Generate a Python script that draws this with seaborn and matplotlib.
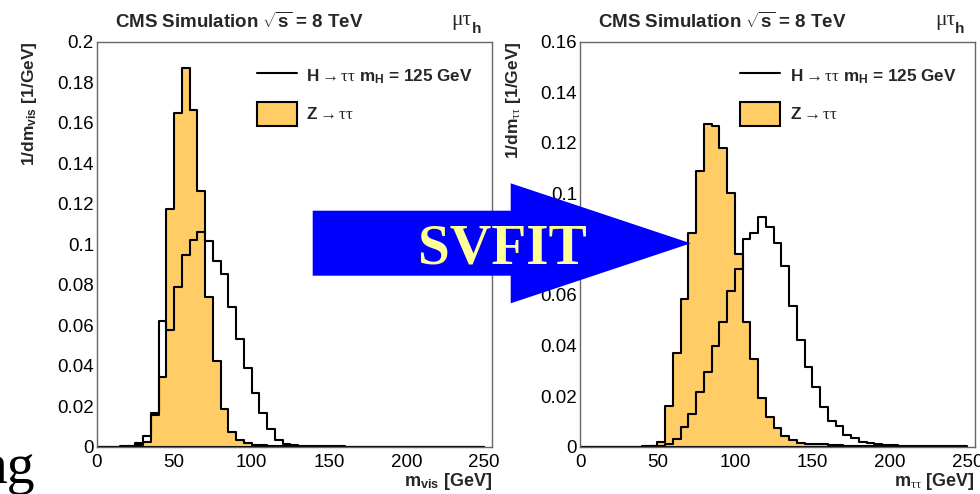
import numpy as np
import matplotlib
matplotlib.use("Agg")
import matplotlib.pyplot as plt
import seaborn as sns
from matplotlib.lines import Line2D
from matplotlib.patches import Patch, Polygon
from matplotlib.ticker import MultipleLocator, FuncFormatter

# ---------------- data (5 GeV bins, 0-250 GeV) ----------------
bin_edges = list(range(0, 255, 5))
bin_centers = [e + 2.5 for e in bin_edges[:-1]]

vis_htt = [0, 0, 0, 0.0001, 0.0004, 0.0020, 0.0054, 0.0168, 0.0622, 0.0576,
           0.0787, 0.0947, 0.1022, 0.1062, 0.1016, 0.0919, 0.0851, 0.0688, 0.0532, 0.0387,
           0.0263, 0.0165, 0.0086, 0.0033, 0.0013, 0.0007, 0.0004, 0.0003, 0.0002, 0.0002,
           0.0001, 0.0001, 0, 0, 0, 0, 0, 0, 0, 0,
           0, 0, 0, 0, 0, 0, 0, 0, 0, 0]
vis_ztt = [0, 0, 0, 0, 0.0002, 0.0008, 0.0025, 0.0157, 0.0346, 0.1174,
           0.1646, 0.1868, 0.1663, 0.1264, 0.0737, 0.0425, 0.0184, 0.0071, 0.0033, 0.0016,
           0.0009, 0.0006, 0.0004, 0.0003, 0.0002, 0.0001, 0, 0, 0, 0,
           0, 0, 0, 0, 0, 0, 0, 0, 0, 0,
           0, 0, 0, 0, 0, 0, 0, 0, 0, 0]
svfit_htt = [0, 0, 0, 0, 0, 0, 0, 0, 0, 0.0001,
             0.0004, 0.0010, 0.0030, 0.0079, 0.0129, 0.0215, 0.0296, 0.0398, 0.0494, 0.0617,
             0.0702, 0.0819, 0.0843, 0.0906, 0.0867, 0.0806, 0.0715, 0.0555, 0.0423, 0.0314,
             0.0236, 0.0156, 0.0102, 0.0083, 0.0047, 0.0033, 0.0017, 0.0013, 0.0009, 0.0007,
             0.0005, 0.0004, 0.0003, 0.0002, 0.0002, 0.0001, 0.0001, 0.0001, 0.0001, 0.0001]
svfit_ztt = [0, 0, 0, 0, 0, 0, 0, 0, 0.0001, 0.0004,
             0.0020, 0.0162, 0.0369, 0.0584, 0.0843, 0.1089, 0.1274, 0.1267, 0.1179, 0.1004,
             0.0761, 0.0494, 0.0347, 0.0191, 0.0116, 0.0075, 0.0043, 0.0026, 0.0013, 0.0012,
             0.0011, 0.0012, 0.0007, 0.0005, 0.0003, 0.0002, 0.0002, 0.0001, 0.0001, 0.0001,
             0, 0, 0, 0, 0, 0, 0, 0, 0, 0]

x_ticks = [0, 50, 100, 150, 200, 250]
title_text = r"CMS Simulation $\sqrt{\mathrm{s}}$ = 8 TeV"
label_htt = r"H$\rightarrow\tau\tau$ m$_{\mathbf{H}}$ = 125 GeV"
label_ztt = r"Z$\rightarrow\tau\tau$"

# ---------------- style ----------------
sns.set_style("white")
plt.rcParams["font.family"] = ["Liberation Sans", "DejaVu Sans"]
plt.rcParams["mathtext.fontset"] = "custom"
plt.rcParams["mathtext.rm"] = "Liberation Sans:bold"
plt.rcParams["mathtext.bf"] = "Liberation Sans:bold"
plt.rcParams["mathtext.it"] = "Liberation Serif"
plt.rcParams["mathtext.sf"] = "Liberation Sans"

Z_COLOR = "#FFCC66"
W, H = 980, 494
fig = plt.figure(figsize=(W / 100, H / 100), dpi=100)
fig.patch.set_facecolor("white")

def px_axes(left, top, right, bottom):
    return [left / W, 1 - bottom / H, (right - left) / W, (bottom - top) / H]

panels = [
    (px_axes(96.7, 41.7, 491.7, 446.7), vis_htt, vis_ztt, 0.2,
     r"$\mathbf{m}_{\mathbf{vis}}$ [GeV]", r"1/dm$_{\mathbf{vis}}$ [1/GeV]"),
    (px_axes(580, 41.7, 975, 446.7), svfit_htt, svfit_ztt, 0.16,
     r"$\mathbf{m}_{\tau\tau}$ [GeV]", r"1/dm$_{\tau\tau}$ [1/GeV]"),
]

for rect, hvals, zvals, ymax, xlab, ylab in panels:
    ax = fig.add_axes(rect)
    sns.histplot(x=bin_centers, weights=zvals, bins=bin_edges, element="step",
                 fill=True, color=Z_COLOR, edgecolor="black", linewidth=1.5,
                 alpha=1, ax=ax)
    sns.histplot(x=bin_centers, weights=hvals, bins=bin_edges, element="step",
                 fill=False, color="black", linewidth=1.5, ax=ax)
    ax.set_xlim(0, 255)
    ax.set_ylim(0, ymax)
    ax.set_xlabel("")
    ax.set_ylabel("")
    ax.set_xticks(x_ticks)
    ax.xaxis.set_minor_locator(MultipleLocator(10))
    ax.yaxis.set_major_locator(MultipleLocator(0.02))
    ax.yaxis.set_minor_locator(MultipleLocator(0.005))
    ax.yaxis.set_major_formatter(FuncFormatter(lambda v, p: "%g" % round(v, 4)))
    ax.tick_params(axis="both", which="both", direction="in", colors="#333333",
                   labelcolor="black", labelsize=13.5, width=1)
    ax.tick_params(axis="x", which="major", length=7.2, pad=5)
    ax.tick_params(axis="x", which="minor", length=3.6)
    ax.tick_params(axis="y", which="major", length=8.6, pad=2)
    ax.tick_params(axis="y", which="minor", length=4.3)
    for s in ax.spines.values():
        s.set_color("#666666")
        s.set_linewidth(1)
    ax.text(1.0, -0.097, xlab, transform=ax.transAxes, ha="right", va="baseline",
            fontsize=13, fontweight="bold")
    ax.text(-0.169, 1.0, ylab, transform=ax.transAxes, ha="center", va="top",
            rotation=90, fontsize=12.5, fontweight="bold")
    ax.text(0.046, 1.033, title_text, transform=ax.transAxes, ha="left",
            va="baseline", fontsize=13.5, fontweight="bold")
    # channel label: mu tau with bold subscript h
    ax.text(0.8985, 1.0412, "\u03bc\u03c4", transform=ax.transAxes, ha="left",
            va="baseline", fontsize=15.5, family=["Liberation Serif"])
    ax.text(0.9489, 1.0215, "h", transform=ax.transAxes, ha="left",
            va="baseline", fontsize=11, fontweight="bold")
    handles = [Line2D([], [], color="black", lw=1.5),
               Patch(facecolor=Z_COLOR, edgecolor="black", lw=1.5)]
    ax.legend(handles, [label_htt, label_ztt], loc="upper left",
              bbox_to_anchor=(0.405, 0.945), frameon=False,
              prop={"weight": "bold", "size": 12.3}, handlelength=2.35,
              handleheight=1.85, handletextpad=0.55, labelspacing=0.75,
              borderpad=0, borderaxespad=0)

# ---------------- overlay: SVFIT arrow and slide text ----------------
ov = fig.add_axes([0, 0, 1, 1])
ov.set_xlim(0, W)
ov.set_ylim(H, 0)
ov.axis("off")
ov.patch.set_alpha(0)
arrow = Polygon([(312.7, 210.7), (510.7, 210.7), (510.7, 183.3), (690.7, 243.3),
                 (510.7, 303.3), (510.7, 275.7), (312.7, 275.7)],
                closed=True, facecolor="#0000FF", edgecolor="none")
ov.add_patch(arrow)
ov.text(502, 263, "SVFIT", ha="center", va="baseline", fontsize=41.3,
        fontweight="bold", family=["Liberation Serif"], color="#FFFF99")
ov.text(35, 483, "ng", ha="right", va="baseline", fontsize=40,
        family=["Liberation Serif"], color="black")

fig.savefig("out.png", dpi=100)
